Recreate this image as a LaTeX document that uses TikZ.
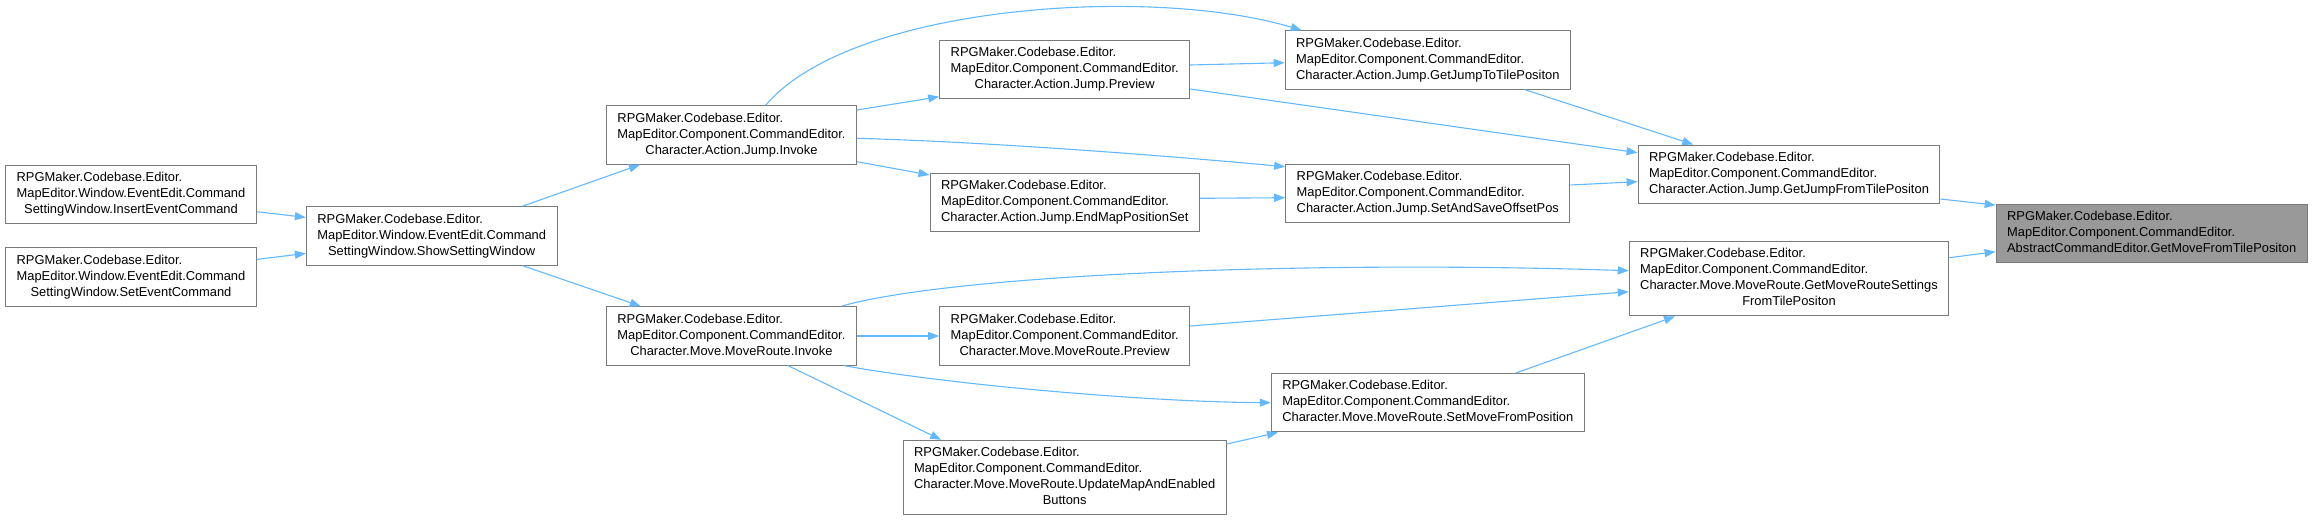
\documentclass[tikz,border=0pt]{standalone}
\usepackage{fontspec}
\setmainfont{Liberation Sans}
\usepackage{tikz}
\usetikzlibrary{arrows.meta}
\definecolor{edgeblue}{HTML}{63B8FF}
\definecolor{boxgrey}{HTML}{7A7A7A}
\definecolor{hlgrey}{HTML}{999999}
\newcommand{\fnlabel}[2]{\begin{tabular}{@{}l@{}}#1\\\multicolumn{1}{@{}c@{}}{#2}\end{tabular}}

\begin{document}
\begin{tikzpicture}[
  x=1pt,y=-1pt,
  fn/.style={draw=boxgrey,line width=1pt,fill=white,inner xsep=11pt,inner ysep=5.2pt,
             font=\fontsize{12.9}{16}\selectfont},
  hl/.style={fn,fill=hlgrey},
  call/.style={-{Triangle[length=11pt,width=8pt]},edgeblue,line width=1.1pt}
]
  \useasboundingbox (0,0) rectangle (2313,520);
  \node[fn] (insert) at (131,194.2) {\fnlabel{RPGMaker.Codebase.Editor.\\MapEditor.Window.EventEdit.Command}{SettingWindow.InsertEventCommand}};
  \node[fn] (setev) at (131,276.9) {\fnlabel{RPGMaker.Codebase.Editor.\\MapEditor.Window.EventEdit.Command}{SettingWindow.SetEventCommand}};
  \node[fn] (show) at (431.7,235.9) {\fnlabel{RPGMaker.Codebase.Editor.\\MapEditor.Window.EventEdit.Command}{SettingWindow.ShowSettingWindow}};
  \node[fn] (jinvoke) at (731.5,135) {\fnlabel{RPGMaker.Codebase.Editor.\\MapEditor.Component.CommandEditor.}{Character.Action.Jump.Invoke}};
  \node[fn] (minvoke) at (731.4,336) {\fnlabel{RPGMaker.Codebase.Editor.\\MapEditor.Component.CommandEditor.}{Character.Move.MoveRoute.Invoke}};
  \node[fn] (jpreview) at (1064.7,69.2) {\fnlabel{RPGMaker.Codebase.Editor.\\MapEditor.Component.CommandEditor.}{Character.Action.Jump.Preview}};
  \node[fn] (endmap) at (1064.7,202.5) {\fnlabel{RPGMaker.Codebase.Editor.\\MapEditor.Component.CommandEditor.}{Character.Action.Jump.EndMapPositionSet}};
  \node[fn] (mpreview) at (1064.7,336) {\fnlabel{RPGMaker.Codebase.Editor.\\MapEditor.Component.CommandEditor.}{Character.Move.MoveRoute.Preview}};
  \node[fn] (update) at (1064.7,477.5) {\fnlabel{RPGMaker.Codebase.Editor.\\MapEditor.Component.CommandEditor.\\Character.Move.MoveRoute.UpdateMapAndEnabled}{Buttons}};
  \node[fn] (jumpto) at (1427.8,60) {\fnlabel{RPGMaker.Codebase.Editor.\\MapEditor.Component.CommandEditor.}{Character.Action.Jump.GetJumpToTilePositon}};
  \node[fn] (saveoffset) at (1427.8,193.2) {\fnlabel{RPGMaker.Codebase.Editor.\\MapEditor.Component.CommandEditor.}{Character.Action.Jump.SetAndSaveOffsetPos}};
  \node[fn] (setmove) at (1427.8,402.7) {\fnlabel{RPGMaker.Codebase.Editor.\\MapEditor.Component.CommandEditor.}{Character.Move.MoveRoute.SetMoveFromPosition}};
  \node[fn] (jumpfrom) at (1789,174.2) {\fnlabel{RPGMaker.Codebase.Editor.\\MapEditor.Component.CommandEditor.}{Character.Action.Jump.GetJumpFromTilePositon}};
  \node[fn] (moveset) at (1789,278.7) {\fnlabel{RPGMaker.Codebase.Editor.\\MapEditor.Component.CommandEditor.\\Character.Move.MoveRoute.GetMoveRouteSettings}{FromTilePositon}};
  \node[hl] (target) at (2151.7,233.4) {\fnlabel{RPGMaker.Codebase.Editor.\\MapEditor.Component.CommandEditor.}{AbstractCommandEditor.GetMoveFromTilePositon}};

  \draw[call] ([yshift=-17.5pt]insert.east) -- ([yshift=18.5pt]show.west);
  \draw[call] ([yshift=17.5pt]setev.east) -- ([yshift=-17.5pt]show.west);
  \draw[call] ([xshift=90.7pt]show.north) -- ([xshift=-91.5pt]jinvoke.south);
  \draw[call] ([xshift=90.7pt]show.south) -- ([xshift=-90.5pt]minvoke.north);
  \draw[call] ([yshift=25pt]jinvoke.east) -- ([yshift=-27.5pt]jpreview.west);
  \draw[call] ([yshift=-26.7pt]jinvoke.east) -- ([yshift=27.5pt]endmap.west);
  \draw[call] ([xshift=34.2pt]jinvoke.north) .. controls (850,5) and (1150,-15) .. ([xshift=-126.1pt]jumpto.north);
  \draw[call] ([yshift=-3.3pt]jinvoke.east) .. controls (990,142) and (1170,156) .. ([yshift=26.5pt]saveoffset.west);
  \draw[call] ([yshift=4.2pt]jpreview.east) -- ([yshift=-2.7pt]jumpto.west);
  \draw[call] ([yshift=-19.8pt]jpreview.east) -- ([yshift=21.5pt]jumpfrom.west);
  \draw[call] ([yshift=4.2pt]endmap.east) -- ([yshift=-4.5pt]saveoffset.west);
  \draw[call] ([xshift=97.2pt]jumpto.south) -- ([xshift=-95.7pt]jumpfrom.north);
  \draw[call] ([yshift=8.2pt]saveoffset.east) -- ([yshift=-7.5pt]jumpfrom.west);
  \draw[call] ([yshift=-24.8pt]jumpfrom.east) -- ([yshift=28.3pt]target.west);
  \draw[call] ([yshift=21pt]moveset.east) -- ([yshift=-18.3pt]target.west);
  \draw[call] (minvoke.east) -- (mpreview.west);
  \draw[call] ([xshift=56.8pt]minvoke.south) -- ([xshift=-123.5pt]update.north);
  \draw[call] ([xshift=113.1pt]minvoke.south) .. controls (950,385) and (1150,402) .. (setmove.west);
  \draw[call] ([xshift=109.6pt]minvoke.north) .. controls (950,275) and (1300,260) .. ([yshift=8pt]moveset.west);
  \draw[call] ([yshift=10pt]mpreview.east) -- ([yshift=-13pt]moveset.west);
  \draw[call] ([yshift=33.5pt]update.east) -- ([xshift=-149.8pt]setmove.south);
  \draw[call] ([xshift=88pt]setmove.north) -- ([xshift=-114pt]moveset.south);
\end{tikzpicture}
\end{document}
